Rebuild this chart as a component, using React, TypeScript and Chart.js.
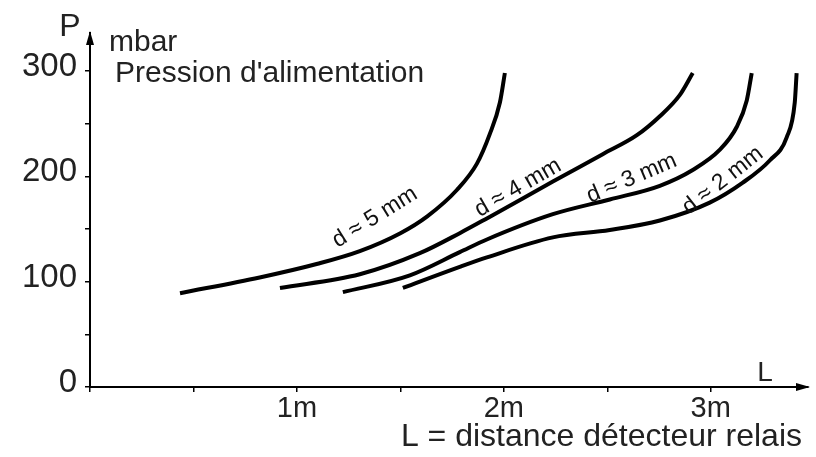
import { useEffect, useRef } from "react";
import { Chart, registerables } from "chart.js";

Chart.register(...registerables);

// Distance L (m) and supply pressure P (mbar) for each nozzle diameter
const curveLabels = ["d ≈ 5 mm", "d ≈ 4 mm", "d ≈ 3 mm", "d ≈ 2 mm"];
const d5L = [0.435, 0.82, 1.1, 1.304, 1.5, 1.63, 1.773, 1.87, 1.932, 1.981, 2.005];
const d5P = [89, 104, 117, 129, 146, 162, 187, 212, 240, 270, 298];
const d4L = [0.918, 1.304, 1.594, 1.787, 1.918, 2.237, 2.478, 2.643, 2.754, 2.85, 2.913];
const d4P = [94, 107, 127, 146, 160, 195, 221, 239, 257, 277, 298];
const d3L = [1.222, 1.546, 1.787, 1.918, 2.237, 2.512, 2.754, 2.913, 3.043, 3.126, 3.174, 3.198];
const d3P = [90, 106, 128, 140, 164, 178, 191, 206, 225, 247, 272, 298];
const d2L = [1.512, 1.787, 1.918, 2.237, 2.512, 2.754, 2.995, 3.155, 3.285, 3.367, 3.406, 3.415];
const d2P = [94, 114, 123, 142, 149, 158, 175, 194, 215, 237, 270, 298];

// label anchor (in data units) and angle for each curve label
const labelL = [1.377, 2.068, 2.618, 3.058];
const labelP = [161, 189, 198, 196];
const labelAngle = [-32, -30, -23, -38];

const yTickLabels = [0, 100, 200, 300];
const xTickLabels = [1, 2, 3];

const FONT = "'Liberation Sans', Arial, sans-serif";
const TEXT = "#222";

function toPoints(xs: number[], ys: number[]) {
  return xs.map((x, i) => ({ x, y: ys[i] }));
}

export default function App() {
  const ref = useRef<HTMLCanvasElement | null>(null);

  useEffect(() => {
    document.body.style.margin = "0";
    const canvas = ref.current;
    if (!canvas) return;

    const series = [
      toPoints(d5L, d5P),
      toPoints(d4L, d4P),
      toPoints(d3L, d3P),
      toPoints(d2L, d2P),
    ];

    const decor = {
      id: "decor",
      afterDraw(chart: any) {
        const ctx = chart.ctx as CanvasRenderingContext2D;
        const { left, right, top, bottom } = chart.chartArea;
        const xs = chart.scales.x;
        const ys = chart.scales.y;
        ctx.save();
        // arrow heads
        ctx.fillStyle = "#000";
        ctx.beginPath();
        ctx.moveTo(left, top - 2);
        ctx.lineTo(left - 4, top + 12);
        ctx.lineTo(left + 4, top + 12);
        ctx.closePath();
        ctx.fill();
        ctx.beginPath();
        ctx.moveTo(right + 2, bottom);
        ctx.lineTo(right - 12, bottom - 4);
        ctx.lineTo(right - 12, bottom + 4);
        ctx.closePath();
        ctx.fill();

        ctx.fillStyle = TEXT;
        ctx.textBaseline = "middle";
        ctx.textAlign = "center";
        ctx.font = `32px ${FONT}`;
        ctx.fillText("P", left - 20, top - 6);
        ctx.textAlign = "left";
        ctx.font = `30px ${FONT}`;
        ctx.fillText("mbar", left + 19, top + 10);
        ctx.fillText("Pression d'alimentation", left + 25, top + 41);
        ctx.textAlign = "center";
        ctx.font = `28px ${FONT}`;
        ctx.fillText("L", right - 43, bottom - 14);
        ctx.textAlign = "right";
        ctx.font = `32px ${FONT}`;
        ctx.fillText("L = distance détecteur relais", right - 6, bottom + 50);

        // curve labels
        ctx.fillStyle = "#111";
        ctx.textAlign = "center";
        ctx.font = `23px ${FONT}`;
        for (let i = 0; i < curveLabels.length; i++) {
          const px = xs.getPixelForValue(labelL[i]);
          const py = ys.getPixelForValue(labelP[i]);
          ctx.save();
          ctx.translate(px, py);
          ctx.rotate((labelAngle[i] * Math.PI) / 180);
          ctx.fillText(curveLabels[i], 0, 0);
          ctx.restore();
        }
        ctx.restore();
      },
    };

    const chart = new Chart(canvas, {
      type: "line",
      data: {
        datasets: series.map((pts, i) => ({
          label: curveLabels[i],
          data: pts,
          borderColor: "#000",
          borderWidth: 4,
          pointRadius: 0,
          fill: false,
          cubicInterpolationMode: "monotone" as const,
        })),
      },
      options: {
        responsive: false,
        animation: false,
        events: [],
        layout: { padding: { top: 33, right: 8, left: 0, bottom: 0 } },
        plugins: {
          legend: { display: false },
          tooltip: { enabled: false },
          title: { display: false },
        },
        scales: {
          x: {
            type: "linear",
            min: 0,
            max: 3.47,
            afterFit: (s: any) => {
              s.height = 70;
            },
            border: { display: true, color: "#000", width: 2 },
            grid: {
              display: true,
              drawOnChartArea: false,
              drawTicks: true,
              tickLength: 5,
              color: "#000",
              lineWidth: 1.5,
            },
            ticks: {
              stepSize: 0.5,
              autoSkip: false,
              includeBounds: false,
              maxRotation: 0,
              padding: 0,
              color: TEXT,
              font: { family: FONT, size: 29 },
              callback: (v: any) => {
                const n = Number(v);
                return xTickLabels.includes(n) ? `${n}m` : "";
              },
            },
          },
          y: {
            type: "linear",
            min: 0,
            max: 336,
            afterFit: (s: any) => {
              s.width = 90;
            },
            border: { display: true, color: "#000", width: 2 },
            grid: {
              display: true,
              drawOnChartArea: false,
              drawTicks: true,
              tickLength: 5,
              color: "#000",
              lineWidth: 1.5,
            },
            ticks: {
              stepSize: 50,
              autoSkip: false,
              includeBounds: false,
              padding: 8,
              labelOffset: -4,
              color: TEXT,
              font: { family: FONT, size: 33 },
              callback: (v: any) => {
                const n = Number(v);
                return yTickLabels.includes(n) ? String(n) : "";
              },
            },
          },
        },
      },
      plugins: [decor],
    });

    return () => chart.destroy();
  }, []);

  return (
    <div style={{ width: 816, height: 457, background: "#fff" }}>
      <canvas ref={ref} width={816} height={457} style={{ display: "block" }} />
    </div>
  );
}
